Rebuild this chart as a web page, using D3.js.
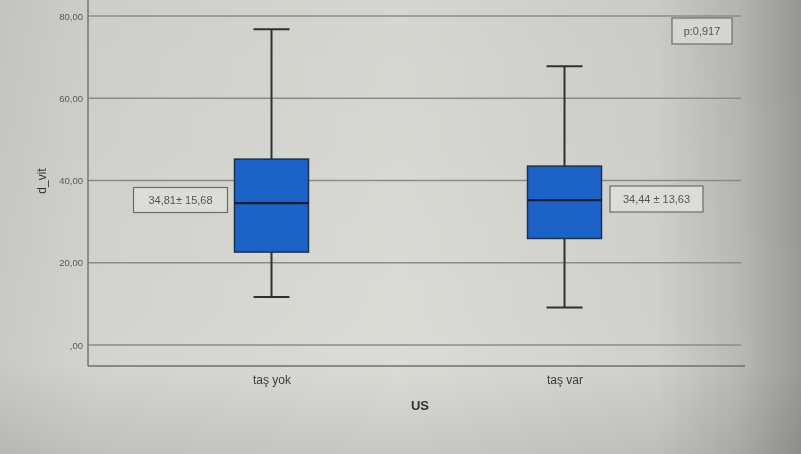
<!DOCTYPE html>
<html>
<head>
<meta charset="utf-8">
<script src="https://cdn.jsdelivr.net/npm/d3@7"></script>
<style>
  html, body { margin: 0; padding: 0; background: #c9cac5; }
  svg { display: block; }
</style>
</head>
<body>
<svg id="chart" width="801" height="454"></svg>
<script>
// Group labels and box-plot summaries of d_vit by US
const categories = ["taş yok", "taş var"];
const mins     = [11.7, 9.1];
const q1s      = [22.6, 25.9];
const medians  = [34.5, 35.2];
const q3s      = [45.2, 43.5];
const maxs     = [76.8, 67.8];
const meanSdLabels = ["34,81± 15,68", "34,44 ± 13,63"];
const yTicks = [0, 20, 40, 60, 80];
const yTickLabels = [",00", "20,00", "40,00", "60,00", "80,00"];
const pLabel = "p:0,917";
const xTitle = "US";
const yTitle = "d_vit";

const W = 801, H = 454;
const frame = { left: 88, right: 745, top: 0, bottom: 366 };

const svg = d3.select("#chart");

// Screen-like background: light across the middle, darkening toward the right edge
const defs = svg.append("defs");
const lg = defs.append("linearGradient").attr("id", "bgx")
  .attr("x1", "0%").attr("x2", "100%").attr("y1", "0%").attr("y2", "0%");
lg.append("stop").attr("offset", "0%").attr("stop-color", "#c9cac5");
lg.append("stop").attr("offset", "12%").attr("stop-color", "#d3d4cf");
lg.append("stop").attr("offset", "50%").attr("stop-color", "#dbdcd6");
lg.append("stop").attr("offset", "82%").attr("stop-color", "#d0d1cc");
lg.append("stop").attr("offset", "92%").attr("stop-color", "#b9bab6");
lg.append("stop").attr("offset", "100%").attr("stop-color", "#9a9b98");
const vg = defs.append("linearGradient").attr("id", "bgy")
  .attr("x1", "0%").attr("x2", "0%").attr("y1", "0%").attr("y2", "100%");
vg.append("stop").attr("offset", "0%").attr("stop-color", "#000").attr("stop-opacity", 0.03);
vg.append("stop").attr("offset", "80%").attr("stop-color", "#000").attr("stop-opacity", 0);
vg.append("stop").attr("offset", "100%").attr("stop-color", "#000").attr("stop-opacity", 0.09);
defs.append("filter").attr("id", "soft")
  .append("feGaussianBlur").attr("stdDeviation", 0.45);

svg.append("rect").attr("width", W).attr("height", H).attr("fill", "url(#bgx)");
svg.append("rect").attr("width", W).attr("height", H).attr("fill", "url(#bgy)");

const g = svg.append("g").attr("filter", "url(#soft)");

const y = d3.scaleLinear().domain([0, 80]).range([345, 16]);
const x = d3.scalePoint().domain(categories).range([125, 711]).padding(0.5);
const boxW = 74, capW = 36;

// Horizontal gridlines
g.append("g").selectAll("line").data(yTicks).join("line")
  .attr("x1", frame.left).attr("x2", 741)
  .attr("y1", d => y(d)).attr("y2", d => y(d))
  .attr("stroke", "#8b8c89").attr("stroke-width", 1.4);

// Y axis with SPSS-style tick labels
const yAxis = d3.axisLeft(y).tickValues(yTicks)
  .tickFormat((d, i) => yTickLabels[i]).tickSize(0).tickPadding(5);
const ya = g.append("g").attr("transform", `translate(${frame.left},0)`).call(yAxis);
ya.select(".domain").remove();
ya.selectAll("text").attr("font-family", "Liberation Sans, Arial, sans-serif")
  .attr("font-size", 9.5).attr("fill", "#5a5a5a");

// Frame lines: left and bottom
g.append("line").attr("x1", frame.left).attr("x2", frame.left)
  .attr("y1", frame.top).attr("y2", frame.bottom)
  .attr("stroke", "#6f706d").attr("stroke-width", 1.4);
g.append("line").attr("x1", frame.left).attr("x2", frame.right)
  .attr("y1", frame.bottom).attr("y2", frame.bottom)
  .attr("stroke", "#6f706d").attr("stroke-width", 1.4);

// X axis category labels
const xAxis = d3.axisBottom(x).tickSize(0).tickPadding(9);
const xa = g.append("g").attr("transform", `translate(0,${frame.bottom})`).call(xAxis);
xa.select(".domain").remove();
xa.selectAll("text").attr("font-family", "Liberation Sans, Arial, sans-serif")
  .attr("font-size", 12).attr("fill", "#3c3c3c");

// Axis titles
g.append("text").attr("x", 420).attr("y", 410).attr("text-anchor", "middle")
  .attr("font-family", "Liberation Sans, Arial, sans-serif").attr("font-weight", "bold")
  .attr("font-size", 13).attr("fill", "#333").text(xTitle);
g.append("text").attr("transform", "translate(46,181) rotate(-90)")
  .attr("text-anchor", "middle")
  .attr("font-family", "Liberation Sans, Arial, sans-serif")
  .attr("font-size", 12).attr("fill", "#333").text(yTitle);

// Box plots
const boxes = categories.map((c, i) => ({
  c, min: mins[i], q1: q1s[i], med: medians[i], q3: q3s[i], max: maxs[i]
}));
const bg = g.append("g").selectAll("g").data(boxes).join("g");
// whiskers
bg.append("line").attr("x1", d => x(d.c)).attr("x2", d => x(d.c))
  .attr("y1", d => y(d.max)).attr("y2", d => y(d.q3))
  .attr("stroke", "#2f3333").attr("stroke-width", 2);
bg.append("line").attr("x1", d => x(d.c)).attr("x2", d => x(d.c))
  .attr("y1", d => y(d.q1)).attr("y2", d => y(d.min))
  .attr("stroke", "#2f3333").attr("stroke-width", 2);
// caps
bg.append("line").attr("x1", d => x(d.c) - capW / 2).attr("x2", d => x(d.c) + capW / 2)
  .attr("y1", d => y(d.max)).attr("y2", d => y(d.max))
  .attr("stroke", "#2f3333").attr("stroke-width", 2);
bg.append("line").attr("x1", d => x(d.c) - capW / 2).attr("x2", d => x(d.c) + capW / 2)
  .attr("y1", d => y(d.min)).attr("y2", d => y(d.min))
  .attr("stroke", "#2f3333").attr("stroke-width", 2);
// box
bg.append("rect").attr("x", d => x(d.c) - boxW / 2).attr("width", boxW)
  .attr("y", d => y(d.q3)).attr("height", d => y(d.q1) - y(d.q3))
  .attr("fill", "#1f62c6").attr("stroke", "#1d3150").attr("stroke-width", 1.5);
// median
bg.append("line").attr("x1", d => x(d.c) - boxW / 2).attr("x2", d => x(d.c) + boxW / 2)
  .attr("y1", d => y(d.med)).attr("y2", d => y(d.med))
  .attr("stroke", "#0c1d38").attr("stroke-width", 2.2);

// Mean ± SD annotation boxes beside each box
const ann = [
  { text: meanSdLabels[0], cx: x(categories[0]) - 91, cy: 200, w: 94, h: 25 },
  { text: meanSdLabels[1], cx: x(categories[1]) + 92, cy: 199, w: 93, h: 26 }
];
const ag = g.append("g").selectAll("g").data(ann).join("g");
ag.append("rect").attr("x", d => d.cx - d.w / 2).attr("y", d => d.cy - d.h / 2)
  .attr("width", d => d.w).attr("height", d => d.h)
  .attr("fill", "#dcddd8").attr("stroke", "#6c6d6a").attr("stroke-width", 1.2);
ag.append("text").attr("x", d => d.cx).attr("y", d => d.cy + 4)
  .attr("text-anchor", "middle").attr("font-family", "Liberation Sans, Arial, sans-serif")
  .attr("font-size", 11).attr("fill", "#555").text(d => d.text);

// p-value box
g.append("rect").attr("x", 672).attr("y", 18).attr("width", 60).attr("height", 26)
  .attr("fill", "#d5d6d1").attr("stroke", "#6c6d6a").attr("stroke-width", 1.2);
g.append("text").attr("x", 702).attr("y", 35).attr("text-anchor", "middle")
  .attr("font-family", "Liberation Sans, Arial, sans-serif")
  .attr("font-size", 11).attr("fill", "#555").text(pLabel);
</script>
</body>
</html>
